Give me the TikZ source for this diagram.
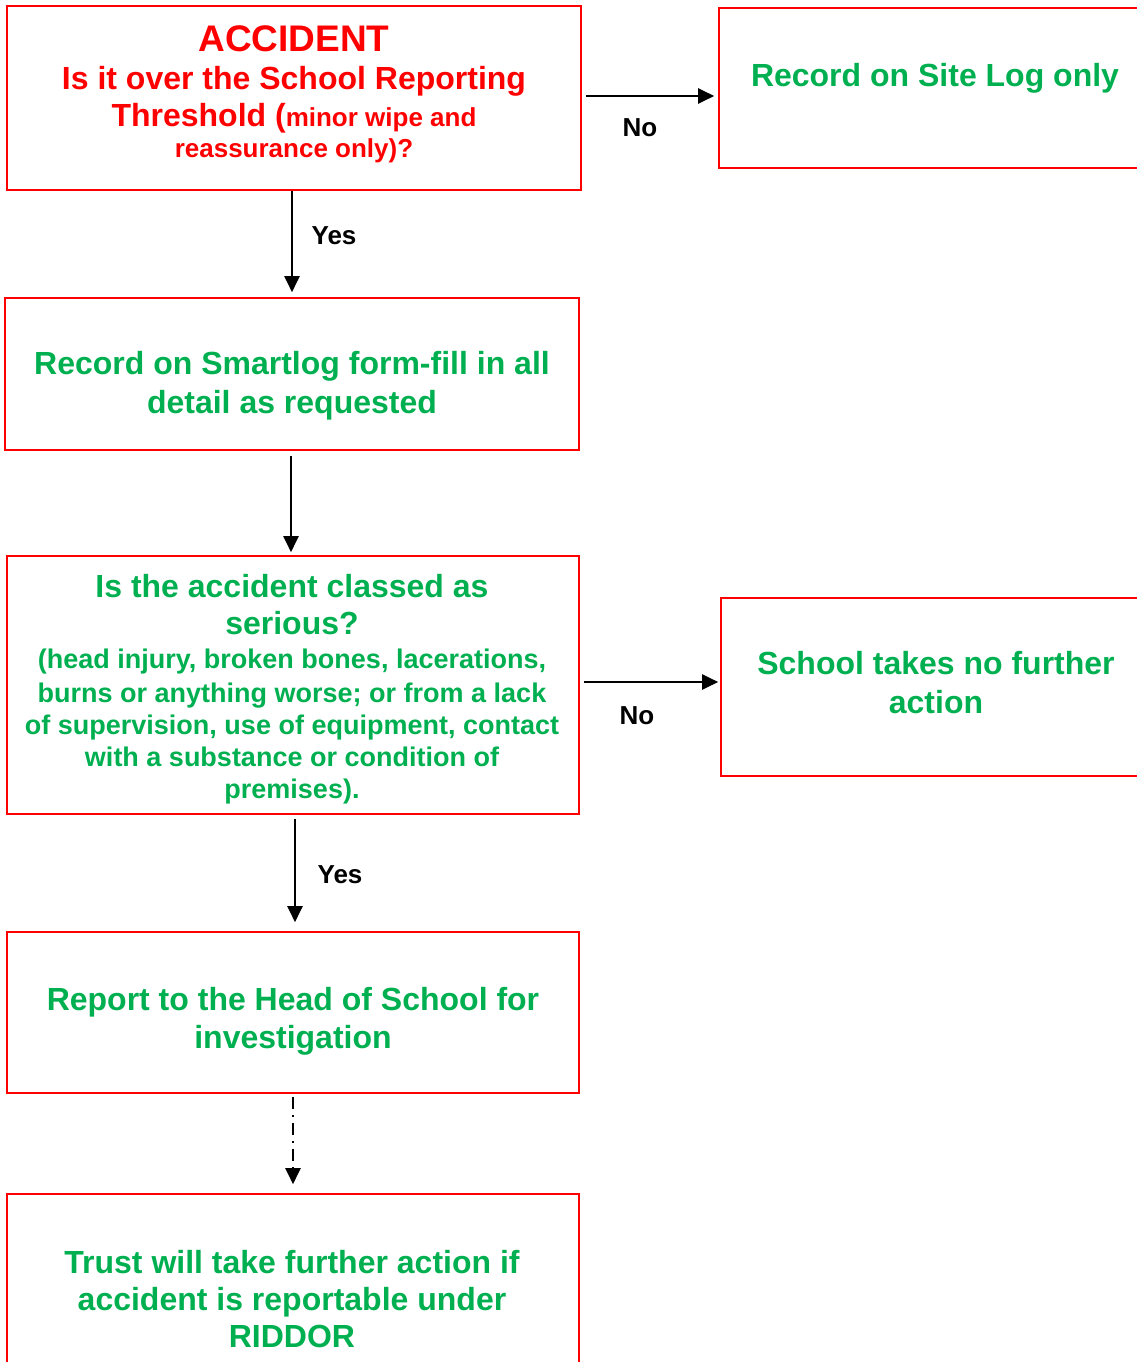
\documentclass[tikz,border=0pt]{standalone}
\usepackage{fontspec}
\setmainfont{Liberation Sans}
\usetikzlibrary{arrows.meta}
\definecolor{boxred}{HTML}{FF0000}
\definecolor{txtgreen}{HTML}{00B050}
\tikzset{
  box/.style={draw=boxred, line width=1.6pt, rectangle, inner sep=0pt},
  gtext/.style={text=txtgreen, font=\bfseries\fontsize{32}{39}\selectfont, align=center, inner sep=0pt},
  rtext/.style={text=boxred, font=\bfseries\fontsize{32}{37}\selectfont, align=center, inner sep=0pt},
  lbl/.style={text=black, font=\bfseries\fontsize{26}{30}\selectfont, inner sep=0pt},
  arr/.style={draw=black, line width=2pt, -{Triangle[length=16pt,width=15pt]}},
  dotarr/.style={arr, dash pattern=on 12pt off 6pt on 2pt off 6pt}
}
\begin{document}
\begin{tikzpicture}[x=1pt,y=-1pt]
\useasboundingbox (0,0) rectangle (1137,1362);
\clip (0,0) rectangle (1137,1362);

% boxes
\node[box, minimum width=574pt, minimum height=184pt] (acc) at (294,98) {};
\node[box, minimum width=431pt, minimum height=160pt] (site) at (934.5,88) {};
\node[box, minimum width=574pt, minimum height=152pt] (smart) at (292,374) {};
\node[box, minimum width=572pt, minimum height=258pt] (serious) at (293,685) {};
\node[box, minimum width=429pt, minimum height=178pt] (nof) at (935.5,687) {};
\node[box, minimum width=572pt, minimum height=161pt] (report) at (293,1012.5) {};
\node[box, minimum width=572pt, minimum height=206pt] (trust) at (293,1297) {};

% texts
\node[rtext] (tacc) at (294,94) {{\fontsize{37}{37}\selectfont ACCIDENT}\\[1pt]
Is it over the School Reporting\\
Threshold ({\fontsize{26}{30}\selectfont minor wipe and}\\[-6pt]
{\fontsize{26}{30}\selectfont reassurance only)?}};
\node[gtext] (tsite) at (935,78) {Record on Site Log only};
\node[gtext] (tsmart) at (292,386) {Record on Smartlog form-fill in all\\detail as requested};
\node[gtext, font=\bfseries\fontsize{27}{32}\selectfont] (tserious) at (292,689) {{\fontsize{32}{32}\selectfont Is the accident classed as}\\[5pt]
{\fontsize{32}{32}\selectfont serious?}\\[2pt]
(head injury, broken bones, lacerations,\\[2pt]
burns or anything worse; or from a lack\\
of supervision, use of equipment, contact\\
with a substance or condition of\\
premises).};
\node[gtext] (tnof) at (936,683) {School takes no further\\action};
\node[gtext, font=\bfseries\fontsize{32}{38}\selectfont] (treport) at (293,1021) {Report to the Head of School for\\investigation};
\node[gtext, font=\bfseries\fontsize{32}{37}\selectfont] (ttrust) at (292,1299) {Trust will take further action if\\accident is reportable under\\RIDDOR};

% connectors
\draw[arr, shorten <=4pt, shorten >=4pt] ([yshift=2pt]acc.east) -- ([yshift=2pt]acc.east -| site.west);
\draw[arr, shorten >=5pt] (acc.south -| smart.north) -- (smart.north);
\draw[arr, shorten <=5pt, shorten >=3pt] ([xshift=-1pt]smart.south) -- ([xshift=-1pt]smart.south |- serious.north);
\draw[arr, shorten <=4pt, shorten >=2pt] ([yshift=3pt]serious.east) -- ([yshift=3pt]serious.east -| nof.west);
\draw[arr, shorten <=4pt, shorten >=9pt] ([xshift=2pt]serious.south) -- ([xshift=2pt]serious.south |- report.north);
\draw[dotarr, shorten <=3pt, shorten >=9pt] (report.south) -- (report.south |- trust.north);

% labels
\node[lbl] (lno1) at (640,128) {No};
\node[lbl] (lyes1) at (334,236) {Yes};
\node[lbl] (lno2) at (637,716) {No};
\node[lbl] (lyes2) at (340,875) {Yes};
\end{tikzpicture}
\end{document}
